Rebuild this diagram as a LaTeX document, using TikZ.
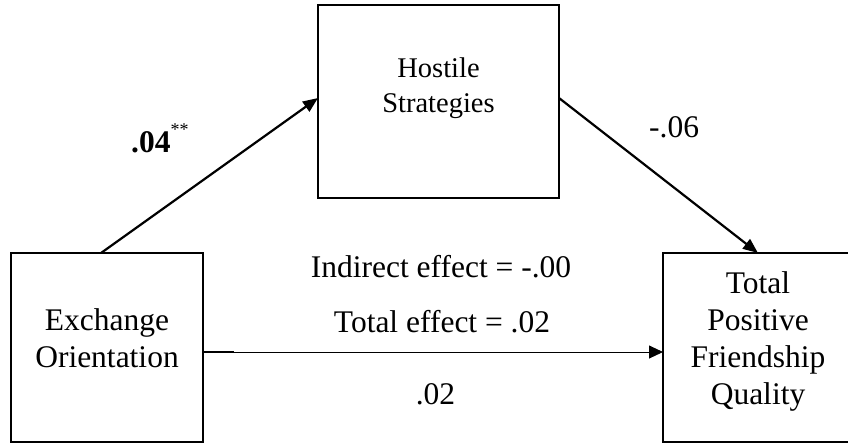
\documentclass[tikz,border=0pt]{standalone}
\usepackage{fontspec}
\setmainfont{Liberation Serif}
\usetikzlibrary{arrows.meta}
\begin{document}
\begin{tikzpicture}[x=1pt,y=-1pt,
  varbox/.style={draw,line width=2.2pt,rectangle,inner sep=0pt,outer sep=0pt},
  boxtext/.style={align=center,anchor=north,inner sep=0pt,
    font=\fontsize{31.5}{37}\selectfont},
  smalltext/.style={align=center,anchor=north,inner sep=0pt,
    font=\fontsize{28.5}{35}\selectfont},
  coef/.style={inner sep=0pt,font=\fontsize{31.5}{37}\selectfont},
  path/.style={line width=2.2pt,-{Triangle[length=15pt,width=12pt]}},
  direct/.style={line width=0.9pt,-{Triangle[length=14pt,width=13pt]}}]
\useasboundingbox (0,0) rectangle (848,445);

% the three variables
\node[varbox,minimum width=241pt,minimum height=193pt] (hs) at (438.5,101.5) {};
\node[varbox,minimum width=192pt,minimum height=189pt] (ex) at (107,347.5) {};
\node[varbox,minimum width=190pt,minimum height=189pt] (fq) at (758,347.5) {};

\node[smalltext] (hstext) at (438.5,57.5) {Hostile\\Strategies};
\node[boxtext] (extext) at (107,308.5) {Exchange\\Orientation};
\node[boxtext] (fqtext) at (758,271.5) {Total\\Positive\\Friendship\\Quality};

% indirect path
\draw[path] ([xshift=-6pt]ex.north) -- ([yshift=3.5pt]hs.west);
\draw[path] ([yshift=3.5pt]hs.east) -- (fq.north);

% direct path
\draw[direct] ([yshift=-4.5pt]ex.east) -- ([yshift=-4.5pt]fq.west);
\draw[line width=2pt] ([yshift=-4.5pt]ex.east) -- ++(31,0);

% coefficients
\node[coef,anchor=base west] (a) at (131,152)
  {\textbf{.04}\raisebox{17pt}{\fontsize{18}{18}\selectfont **}};
\node[coef,anchor=base west] (b) at (649,137) {-.06};
\node[coef,anchor=base] (ind) at (441,277) {Indirect effect = -.00};
\node[coef,anchor=base] (tot) at (442,332) {Total effect = .02};
\node[coef,anchor=base] (c) at (435.5,404) {.02};
\end{tikzpicture}
\end{document}
